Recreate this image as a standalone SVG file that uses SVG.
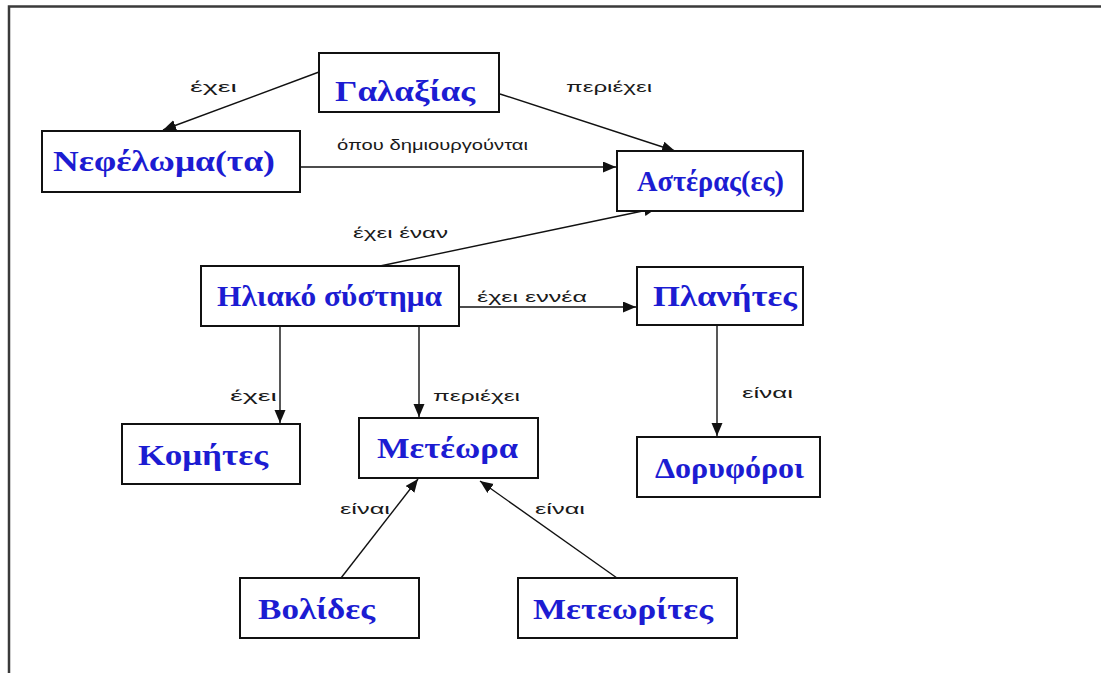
<svg xmlns="http://www.w3.org/2000/svg" width="1101" height="673" viewBox="0 0 1101 673">
<style>
.frame{fill:none;stroke:#3a3a3a;stroke-width:2.5}
.box{fill:#fff;stroke:#111;stroke-width:2}
.nt{font-family:"Liberation Serif","Times New Roman",serif;font-weight:bold;font-size:30px;fill:#1c1cd2}
.edge{fill:none;stroke:#111;stroke-width:1.4}
.lbl{font-family:"Liberation Sans",Arial,sans-serif;font-size:15px;fill:#1a1a1a}
</style>
<defs>
<marker id="ah" markerUnits="userSpaceOnUse" markerWidth="14" markerHeight="12" refX="13" refY="5.5" orient="auto">
<path d="M0,0 L13,5.5 L0,11 z" fill="#111"/>
</marker>
</defs>
<rect width="1101" height="673" fill="#fff"/>
<path class="frame" d="M9,673 V6.5 H1101"/>
<g id="connectors">
<line class="edge" x1="319" y1="72" x2="163" y2="130" marker-end="url(#ah)"/>
<line class="edge" x1="500" y1="94" x2="675" y2="151" marker-end="url(#ah)"/>
<line class="edge" x1="300" y1="167" x2="616" y2="167" marker-end="url(#ah)"/>
<line class="edge" x1="380" y1="266" x2="657" y2="208" marker-end="url(#ah)"/>
<line class="edge" x1="459" y1="307" x2="636" y2="307" marker-end="url(#ah)"/>
<line class="edge" x1="280" y1="326" x2="280" y2="423" marker-end="url(#ah)"/>
<line class="edge" x1="419" y1="326" x2="419" y2="417" marker-end="url(#ah)"/>
<line class="edge" x1="717" y1="325" x2="717" y2="436" marker-end="url(#ah)"/>
<line class="edge" x1="341" y1="578" x2="418" y2="479" marker-end="url(#ah)"/>
<line class="edge" x1="617" y1="578" x2="480" y2="481" marker-end="url(#ah)"/>
<text class="lbl" x="190" y="92" textLength="47" lengthAdjust="spacingAndGlyphs">έχει</text>
<text class="lbl" x="566" y="92" textLength="86" lengthAdjust="spacingAndGlyphs">περιέχει</text>
<text class="lbl" x="337" y="150" textLength="191" lengthAdjust="spacingAndGlyphs">όπου δημιουργούνται</text>
<text class="lbl" x="353" y="238" textLength="95" lengthAdjust="spacingAndGlyphs">έχει έναν</text>
<text class="lbl" x="477" y="302" textLength="110" lengthAdjust="spacingAndGlyphs">έχει εννέα</text>
<text class="lbl" x="230" y="401" textLength="47" lengthAdjust="spacingAndGlyphs">έχει</text>
<text class="lbl" x="433" y="401" textLength="87" lengthAdjust="spacingAndGlyphs">περιέχει</text>
<text class="lbl" x="742" y="398" textLength="51" lengthAdjust="spacingAndGlyphs">είναι</text>
<text class="lbl" x="340" y="514" textLength="50" lengthAdjust="spacingAndGlyphs">είναι</text>
<text class="lbl" x="535" y="514" textLength="50" lengthAdjust="spacingAndGlyphs">είναι</text>
</g>
<g id="galaxias"><rect class="box" x="319" y="53" width="180" height="59"/><text class="nt" x="335" y="101" textLength="140" lengthAdjust="spacingAndGlyphs">Γαλαξίας</text></g>
<g id="nefeloma"><rect class="box" x="42" y="131" width="258" height="61"/><text class="nt" x="53" y="171" textLength="222" lengthAdjust="spacingAndGlyphs">Νεφέλωμα(τα)</text></g>
<g id="asteras"><rect class="box" x="617" y="151" width="186" height="60"/><text class="nt" x="637" y="191" textLength="147" lengthAdjust="spacingAndGlyphs">Αστέρας(ες)</text></g>
<g id="iliako"><rect class="box" x="201" y="266" width="258" height="60"/><text class="nt" x="217" y="306" textLength="225" lengthAdjust="spacingAndGlyphs">Ηλιακό σύστημα</text></g>
<g id="planites"><rect class="box" x="637" y="267" width="166" height="58"/><text class="nt" x="653" y="306" textLength="144" lengthAdjust="spacingAndGlyphs">Πλανήτες</text></g>
<g id="komites"><rect class="box" x="122" y="424" width="178" height="60"/><text class="nt" x="138" y="465" textLength="130" lengthAdjust="spacingAndGlyphs">Κομήτες</text></g>
<g id="meteora"><rect class="box" x="359" y="418" width="179" height="60"/><text class="nt" x="377" y="458" textLength="141" lengthAdjust="spacingAndGlyphs">Μετέωρα</text></g>
<g id="doryforoi"><rect class="box" x="637" y="437" width="183" height="60"/><text class="nt" x="655" y="478" textLength="149" lengthAdjust="spacingAndGlyphs">Δορυφόροι</text></g>
<g id="volides"><rect class="box" x="240" y="578" width="179" height="60"/><text class="nt" x="258" y="619" textLength="117" lengthAdjust="spacingAndGlyphs">Βολίδες</text></g>
<g id="meteorites"><rect class="box" x="518" y="578" width="219" height="60"/><text class="nt" x="533" y="619" textLength="180" lengthAdjust="spacingAndGlyphs">Μετεωρίτες</text></g>
</svg>
